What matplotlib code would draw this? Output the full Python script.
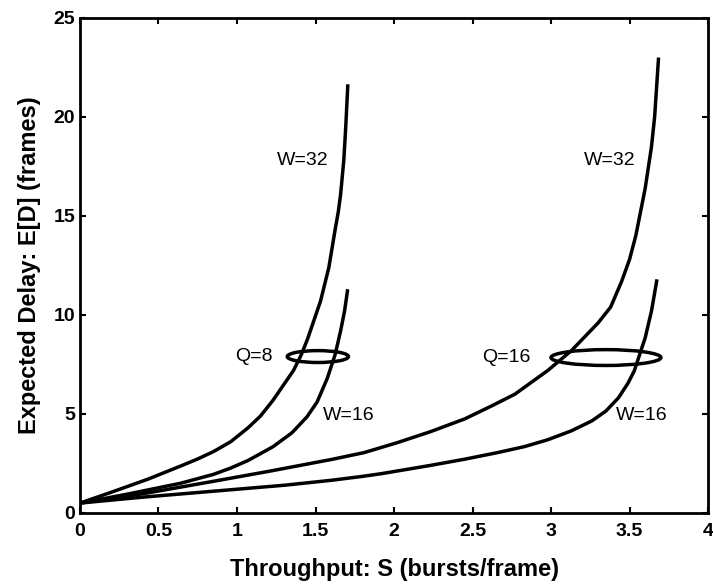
import matplotlib
matplotlib.use("Agg")
import matplotlib.pyplot as plt
from matplotlib.patches import Ellipse

plt.rcParams['font.family'] = ['Liberation Sans', 'DejaVu Sans']

# Q=8 curves
q8_w32_x = [0, 0.2, 0.43, 0.65, 0.75, 0.85, 0.96, 1.07, 1.15, 1.23, 1.36, 1.41, 1.45, 1.532,
            1.585, 1.627, 1.645, 1.66, 1.68, 1.692, 1.706]
q8_w32_y = [0.5, 1.05, 1.7, 2.4, 2.73, 3.1, 3.6, 4.3, 4.9, 5.7, 7.2, 8.0, 8.8, 10.7,
            12.4, 14.4, 15.2, 16.1, 17.8, 19.4, 21.65]
q8_w16_x = [0, 0.3, 0.64, 0.85, 0.96, 1.07, 1.23, 1.35, 1.445, 1.51, 1.575, 1.625, 1.66,
            1.685, 1.705]
q8_w16_y = [0.5, 0.95, 1.5, 1.95, 2.27, 2.65, 3.35, 4.05, 4.85, 5.6, 6.8, 8.0, 9.2,
            10.2, 11.3]

# Q=16 curves
q16_w32_x = [0, 0.4, 0.85, 1.2, 1.6, 1.81, 2.02, 2.23, 2.45, 2.62, 2.77, 2.98, 3.13, 3.3,
             3.38, 3.45, 3.5, 3.54, 3.6, 3.64, 3.66, 3.685]
q16_w32_y = [0.5, 0.97, 1.6, 2.1, 2.7, 3.05, 3.55, 4.1, 4.75, 5.4, 6.0, 7.2, 8.2, 9.6,
             10.4, 11.7, 12.8, 14.0, 16.4, 18.5, 20.0, 23.0]
q16_w16_x = [0, 0.4, 0.85, 1.3, 1.6, 1.8, 1.915, 2.23, 2.446, 2.66, 2.83, 2.98, 3.13, 3.26,
             3.35, 3.43, 3.49, 3.53, 3.6, 3.64, 3.675]
q16_w16_y = [0.5, 0.8, 1.1, 1.4, 1.65, 1.85, 1.98, 2.4, 2.71, 3.05, 3.35, 3.7, 4.15, 4.65,
             5.15, 5.82, 6.55, 7.17, 8.85, 10.2, 11.8]

xticks = [0, 0.5, 1, 1.5, 2, 2.5, 3, 3.5, 4]
xticklabels = ['0', '0.5', '1', '1.5', '2', '2.5', '3', '3.5', '4']
yticks = [0, 5, 10, 15, 20, 25]

fig = plt.figure(figsize=(7.13, 5.85), dpi=100)
ax = fig.add_axes([0.1122, 0.1231, 0.8808, 0.8462])

for xs, ys in [(q8_w32_x, q8_w32_y), (q8_w16_x, q8_w16_y),
               (q16_w32_x, q16_w32_y), (q16_w16_x, q16_w16_y)]:
    ax.plot(xs, ys, color='black', linewidth=2.5, solid_capstyle='butt',
            solid_joinstyle='round')

# ellipses marking the buffer size
ax.add_patch(Ellipse((1.515, 7.9), 0.39, 0.6, fill=False, edgecolor='black', linewidth=2.5))
ax.add_patch(Ellipse((3.35, 7.85), 0.70, 0.8, fill=False, edgecolor='black', linewidth=2.5))

lab = dict(fontsize=14, ha='center', va='center')
ax.text(1.42, 17.8, 'W=32', **lab)
ax.text(3.376, 17.8, 'W=32', **lab)
ax.text(1.105, 7.9, 'Q=8', **lab)
ax.text(2.717, 7.85, 'Q=16', **lab)
ax.text(1.71, 4.9, 'W=16', **lab)
ax.text(3.58, 4.9, 'W=16', **lab)

ax.set_xlim(0, 4)
ax.set_ylim(0, 25)
ax.set_xticks(xticks)
ax.set_xticklabels(xticklabels)
ax.set_yticks(yticks)
ax.tick_params(direction='in', length=4.5, width=1.5, top=True, right=True, labelsize=14)
ax.tick_params(axis='x', pad=7)
for t in ax.get_xticklabels() + ax.get_yticklabels():
    t.set_fontweight('bold')
for s in ax.spines.values():
    s.set_linewidth(2)

ax.set_xlabel('Throughput: S (bursts/frame)', fontsize=17, fontweight='bold', labelpad=13)
ax.set_ylabel('Expected Delay: E[D] (frames)', fontsize=17, fontweight='bold', labelpad=9)

fig.savefig('out.png', dpi=100)
